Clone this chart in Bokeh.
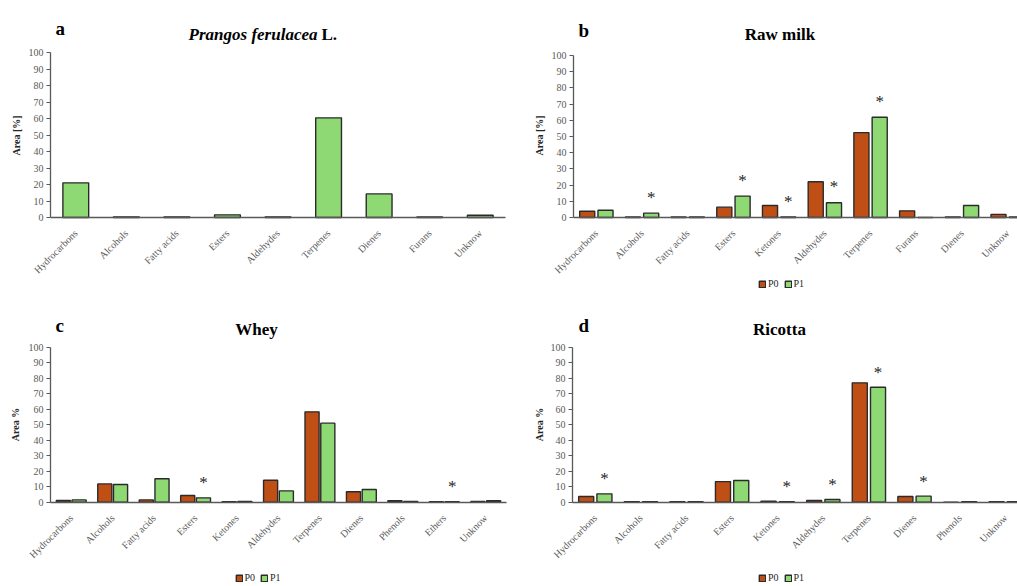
import math
from bokeh.plotting import figure
from bokeh.models import Range1d, FixedTicker, Label, Legend, LegendItem
from bokeh.layouts import column, row
from bokeh.embed import file_html
from bokeh.resources import INLINE
from bokeh.core.properties import value

# ---------------- data ----------------
cats_a = ["Hydrocarbons", "Alcohols", "Fatty acids", "Esters", "Aldehydes",
          "Terpenes", "Dienes", "Furans", "Unknow"]
prangos_p1 = [21.0, 0.4, 0.4, 1.6, 0.4, 60.4, 14.3, 0.3, 1.4]

cats_b = ["Hydrocarbons", "Alcohols", "Fatty acids", "Esters", "Ketones",
          "Aldehydes", "Terpenes", "Furans", "Dienes", "Unknow"]
milk_p0 = [3.9, 0.3, 0.3, 6.4, 7.4, 22.1, 52.4, 4.1, 0.3, 1.9]
milk_p1 = [4.5, 2.7, 0.3, 13.2, 0.3, 9.1, 61.9, 0.0, 7.4, 0.3]
milk_sig = [False, True, False, True, True, True, True, False, False, False]

cats_c = ["Hydrocarbons", "Alcohols", "Fatty acids", "Esters", "Ketones",
          "Aldehydes", "Terpenes", "Dienes", "Phenols", "Ethers", "Unknow"]
whey_p0 = [1.1, 11.8, 1.5, 4.3, 0.3, 14.2, 58.3, 6.7, 0.9, 0.3, 0.5]
whey_p1 = [1.5, 11.4, 15.1, 2.8, 0.5, 7.3, 51.0, 8.2, 0.5, 0.3, 0.9]
whey_sig = [False, False, False, True, False, False, False, False, False, True, False]

cats_d = ["Hydrocarbons", "Alcohols", "Fatty acids", "Esters", "Ketones",
          "Aldehydes", "Terpenes", "Dienes", "Phenols", "Unknow"]
ricotta_p0 = [3.7, 0.3, 0.3, 13.3, 0.6, 1.1, 77.0, 3.7, 0.0, 0.3]
ricotta_p1 = [5.4, 0.3, 0.3, 14.0, 0.3, 1.7, 74.2, 3.9, 0.3, 0.3]
ricotta_sig = [True, False, False, False, True, True, True, True, False, False]

y_ticks = list(range(0, 101, 10))

# ---------------- style ----------------
BROWN = "#C04F15"
GREEN = "#8ED973"
EDGE = "#2b2b2b"
GREY = "#595959"
SERIF = "Liberation Serif"
STAR_GAP = 11.7


def make_panel(cats, p0, p1, sig, origin, W, H, axis_x, spacing, y100_page, y0_page,
               bar_w, off, ylab, ylab_xy, letter, letter_xy, title_parts, legend_c):
    ox, oy = origin  # page position of figure's top-left
    frame_left = ox
    frame_bottom = oy + H
    s = (y0_page - y100_page) / 100.0
    ytop = (y0_page - oy) / s
    ybot = -(frame_bottom - y0_page) / s
    n = len(cats)
    xstart = -0.5 - (axis_x - ox) / spacing
    xend = xstart + W / spacing

    def rx(px):
        return px - frame_left

    def ry(py):
        return frame_bottom - py

    xs = list(range(n))
    p = figure(width=W, height=H, x_range=Range1d(xstart, xend), y_range=Range1d(ybot, ytop),
               output_backend="svg", toolbar_location=None,
               min_border_left=0, min_border_right=0, min_border_top=0, min_border_bottom=0)
    p.outline_line_color = None
    p.grid.grid_line_color = None

    # axes
    p.yaxis.fixed_location = -0.5
    p.yaxis.ticker = FixedTicker(ticks=y_ticks)
    p.yaxis.bounds = (0, 100)
    p.xaxis.fixed_location = 0
    p.xaxis.bounds = (-0.5, min(n - 0.5, xend + 1))
    p.xaxis.ticker = FixedTicker(ticks=xs)
    p.xaxis.major_label_overrides = {i: c for i, c in enumerate(cats)}
    p.xaxis.major_label_orientation = math.pi / 4
    p.xaxis.minor_tick_line_color = None
    p.xaxis.major_label_standoff = 8
    p.yaxis.minor_tick_line_color = None
    p.yaxis.major_tick_in = 0
    p.yaxis.major_tick_out = 4
    p.yaxis.major_label_standoff = 3
    for ax in (p.xaxis[0], p.yaxis[0]):
        ax.axis_line_color = GREY
        ax.axis_line_width = 1.3
        ax.major_label_text_font = SERIF
        ax.major_label_text_font_size = "10px"
        ax.major_label_text_color = GREY
    p.yaxis.major_tick_line_color = GREY
    p.xaxis.major_tick_line_color = None

    renderers = []
    if p0 is not None:
        r0 = p.vbar(x=[i - off for i in xs], top=p0, width=bar_w, bottom=0,
                    fill_color=BROWN, line_color=EDGE, line_width=1.4)
        r1 = p.vbar(x=[i + off for i in xs], top=p1, width=bar_w, bottom=0,
                    fill_color=GREEN, line_color=EDGE, line_width=1.4)
        renderers = [r0, r1]
    else:
        p.vbar(x=xs, top=p1, width=bar_w, bottom=0,
               fill_color=GREEN, line_color=EDGE, line_width=1.4)

    if sig is not None:
        sx = [i + off for i in xs if sig[i]]
        sy = [p1[i] + STAR_GAP for i in xs if sig[i]]
        p.text(x=sx, y=sy, text=["*"] * len(sx), text_font=value(SERIF),
               text_font_size="17px", text_align="center", text_baseline="middle",
               text_color="#262626", y_offset=3)

    # y axis title
    p.add_layout(Label(x=rx(ylab_xy[0]), y=ry(ylab_xy[1]), x_units="screen", y_units="screen",
                       text=ylab, angle=math.pi / 2, text_align="center", text_baseline="middle",
                       text_font=SERIF, text_font_size="10px", text_font_style="bold",
                       text_color="#262626"))
    # panel letter
    p.add_layout(Label(x=rx(letter_xy[0]), y=ry(letter_xy[1]), x_units="screen", y_units="screen",
                       text=letter, text_align="left", text_baseline="alphabetic",
                       text_font=SERIF, text_font_size="19px", text_font_style="bold",
                       text_color="black"))
    # title parts: (text, x, y, align, style)
    for (t, tx, ty, al, st) in title_parts:
        p.add_layout(Label(x=rx(tx), y=ry(ty), x_units="screen", y_units="screen",
                           text=t, text_align=al, text_baseline="alphabetic",
                           text_font=SERIF, text_font_size="17px", text_font_style=st,
                           text_color="black"))

    if legend_c is not None and renderers:
        lw, lh = 46, 8
        cx, cy = legend_c
        lg = Legend(items=[LegendItem(label="P0", renderers=[renderers[0]]),
                           LegendItem(label="P1", renderers=[renderers[1]])],
                    orientation="horizontal",
                    location=(rx(cx) - lw / 2, ry(cy) - lh / 2),
                    glyph_width=8, glyph_height=8, label_height=8, label_width=10,
                    label_standoff=2, spacing=5, padding=0, margin=0,
                    border_line_color=None, background_fill_alpha=0,
                    label_text_font=SERIF, label_text_font_size="10px",
                    label_text_color="#262626", label_text_baseline="middle")
        p.add_layout(lg)
    return p


pa = make_panel(cats_a, None, prangos_p1, None, (0, 0), 508, 300, 50, 50.56, 52, 217, 0.51, 0.0,
                "Area [%]", (16, 135), "a", (55, 28),
                [("Prangos ferulacea", 317, 34, "right", "bold italic"),
                 ("L.", 321, 34, "left", "bold")], None)

pb = make_panel(cats_b, milk_p0, milk_p1, milk_sig, (508, 0), 509, 300, 573, 45.7, 55, 217, 0.33, 0.2,
                "Area [%]", (539, 135), "b", (578, 30),
                [("Raw milk", 779.5, 34, "center", "bold")], (781, 285))

pc = make_panel(cats_c, whey_p0, whey_p1, whey_sig, (0, 300), 508, 286, 50, 41.45, 346.7, 501.7, 0.34, 0.19,
                "Area %", (15, 424), "c", (55, 325),
                [("Whey", 256, 329, "center", "bold")], (257.5, 579))

pd_ = make_panel(cats_d, ricotta_p0, ricotta_p1, ricotta_sig, (508, 300), 509, 286, 572, 45.6, 346.7, 501.7,
                 0.33, 0.2, "Area %", (539, 424), "d", (578, 325),
                 [("Ricotta", 779, 329, "center", "bold")], (781, 579))

layout = column(row(pa, pb), row(pc, pd_))

open("out.html", "w").write(file_html(layout, INLINE))
